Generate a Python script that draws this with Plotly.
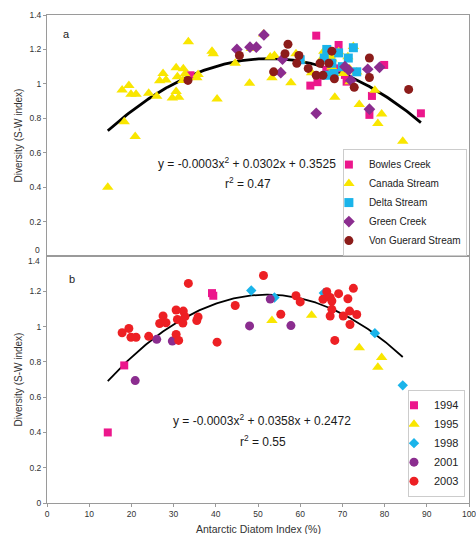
import numpy as np
import plotly.graph_objects as go

# ---------------- Panel b data (Canada Stream samples by year) ----------------
y1994_x = [14.4, 18.3, 39.1, 39.4]
y1994_y = [0.40, 0.78, 1.19, 1.175]
y1995_x = [53.3, 62.7, 74.0, 78.4, 79.3]
y1995_y = [1.035, 1.065, 0.88, 0.77, 0.825]
y1998_x = [48.4, 53.9, 65.6, 77.7, 84.3]
y1998_y = [1.205, 1.165, 1.19, 0.963, 0.667]
y2001_x = [20.9, 26.0, 29.7, 48.0, 52.9, 57.8]
y2001_y = [0.694, 0.928, 0.918, 1.004, 1.156, 1.006]
y2003_x = [17.8, 19.4, 19.9, 21.1, 24.1, 26.7, 27.5, 28.2, 30.6, 30.9, 30.6, 31.2,
           32.3, 32.2, 32.7, 33.5, 35.5, 35.8, 40.3, 44.6, 51.3, 55.4, 59.0, 60.0,
           65.4, 66.3, 67.1, 67.5, 69.1, 71.3, 72.6, 67.1, 67.5, 70.2, 71.7, 73.4,
           71.8, 68.2]
y2003_y = [0.965, 0.99, 0.94, 0.94, 0.945, 1.018, 1.06, 1.022, 1.094, 1.041, 0.956, 0.922,
           1.088, 1.02, 1.057, 1.245, 1.035, 1.055, 0.912, 1.12, 1.29, 1.07, 1.175, 1.14,
           1.155, 1.198, 1.165, 1.145, 1.187, 1.158, 1.217, 1.06, 1.098, 1.06, 1.088, 1.069,
           1.012, 0.922]

# ---------------- Panel a data (by stream) ----------------
bowles_x = [34.0, 63.8, 69.1, 62.4, 64.1, 66.2, 68.5, 71.0, 70.6, 76.4, 77.0, 79.9, 88.6]
bowles_y = [1.05, 1.28, 1.226, 0.99, 1.01, 1.08, 1.09, 1.013, 1.052, 0.82, 0.93, 1.11, 0.829]
canada_x = y1994_x + y1995_x + y1998_x + y2001_x + y2003_x
canada_y = y1994_y + y1995_y + y1998_y + y2001_y + y2003_y
delta_x = [60.0, 65.7, 66.3, 69.1, 72.6, 71.4, 67.5, 66.3, 68.0, 73.4, 70.0]
delta_y = [1.14, 1.15, 1.20, 1.18, 1.21, 1.15, 1.12, 1.05, 1.06, 1.07, 1.10]
green_x = [45.0, 48.1, 49.6, 51.4, 55.8, 55.4, 63.8, 70.6, 71.5, 72.0, 76.0, 78.8, 76.4]
green_y = [1.20, 1.213, 1.213, 1.284, 1.143, 1.065, 0.829, 1.10, 1.08, 1.02, 1.085, 1.096, 0.853]
vg_x = [33.4, 45.6, 53.7, 57.1, 56.4, 59.7, 59.2, 61.9, 64.7, 66.8, 67.5, 63.8, 65.4,
        68.1, 72.8, 76.4, 76.4, 85.7]
vg_y = [1.02, 1.165, 1.07, 1.23, 1.175, 1.165, 1.12, 1.09, 1.12, 1.12, 1.19, 1.05, 1.05,
        1.03, 0.98, 1.15, 1.037, 0.968]

# quadratic trendline coefficients (a is unrounded; b, c as printed on the chart)
trend_a = [-0.000287, 0.0302, 0.3525]
trend_b = [-0.000343, 0.0358, 0.2472]

x_ticks = list(range(0, 101, 10))

PINK = "#EC178C"
YELLOW = "#F9E600"
CYAN = "#1AB4EA"
PURPLE = "#8B2D8F"
BROWN = "#8C1C1A"
RED = "#ED2024"
FONT = "Arial, Liberation Sans, sans-serif"
AXC = "#9a9a9a"
TXT = "#333333"

fig = go.Figure()


def trend(xs, coef, xa, ya, width):
    xs = np.array(xs)
    xx = np.linspace(xs.min(), xs.max(), 200)
    fig.add_trace(go.Scatter(x=xx, y=np.polyval(coef, xx), mode="lines",
                             line=dict(color="black", width=width),
                             showlegend=False, hoverinfo="skip", xaxis=xa, yaxis=ya))


# trend lines (drawn beneath markers)
trend(bowles_x + canada_x + delta_x + green_x + vg_x, trend_a, "x", "y", 2.8)
trend(canada_x, trend_b, "x2", "y2", 1.8)

top_series = [
    ("Bowles Creek", bowles_x, bowles_y, "square", PINK, 8),
    ("Canada Stream", canada_x, canada_y, "triangle-up", YELLOW, 10),
    ("Delta Stream", delta_x, delta_y, "square", CYAN, 9),
    ("Green Creek", green_x, green_y, "diamond", PURPLE, 9),
    ("Von Guerard Stream", vg_x, vg_y, "circle", BROWN, 9),
]
for name, xs, ys, sym, col, sz in top_series:
    fig.add_trace(go.Scatter(x=xs, y=ys, mode="markers", name=name,
                             marker=dict(symbol=sym, color=col, size=sz, line=dict(width=0)),
                             xaxis="x", yaxis="y", legend="legend"))

bot_series = [
    ("1994", y1994_x, y1994_y, "square", PINK, 8),
    ("1995", y1995_x, y1995_y, "triangle-up", YELLOW, 10),
    ("1998", y1998_x, y1998_y, "diamond", CYAN, 8),
    ("2001", y2001_x, y2001_y, "circle", PURPLE, 9),
    ("2003", y2003_x, y2003_y, "circle", RED, 9),
]
for name, xs, ys, sym, col, sz in bot_series:
    fig.add_trace(go.Scatter(x=xs, y=ys, mode="markers", name=name,
                             marker=dict(symbol=sym, color=col, size=sz, line=dict(width=0)),
                             xaxis="x2", yaxis="y2", legend="legend2"))

split = 0.506
ax_common = dict(showgrid=False, zeroline=False, showline=True, linecolor=AXC, linewidth=1,
                 mirror=True, automargin=False, tickfont=dict(size=8.5, color=TXT, family=FONT))
ytitle = dict(text="Diversity (S-W index)", font=dict(size=10, color=TXT, family=FONT), standoff=4)

fig.update_layout(
    width=476, height=534,
    margin=dict(l=47, r=7, t=15, b=31, autoexpand=False),
    paper_bgcolor="white", plot_bgcolor="white",
    font=dict(family=FONT, color=TXT),
    xaxis=dict(domain=[0, 1], range=[0, 100], anchor="y", showticklabels=False, ticks="",
               **ax_common),
    yaxis=dict(domain=[split, 1], range=[0, 1.4], anchor="x",
               tickvals=[0.2, 0.4, 0.6, 0.8, 1.0, 1.2, 1.4], ticks="outside", ticklen=3,
               tickcolor=AXC, title=ytitle, **ax_common),
    xaxis2=dict(domain=[0, 1], range=[0, 100], anchor="y2", tickvals=x_ticks,
                ticks="outside", ticklen=3, tickcolor=AXC, ticklabeloverflow="allow",
                **ax_common),
    yaxis2=dict(domain=[0, split], range=[0, 1.4], anchor="x2",
                tickvals=[0, 0.2, 0.4, 0.6, 0.8, 1.0, 1.2], ticks="outside", ticklen=3,
                tickcolor=AXC, title=ytitle, **ax_common),
    legend=dict(x=0.995, xanchor="right", y=split, yanchor="bottom", indentation=-15,
                bgcolor="white", bordercolor="#cccccc", borderwidth=1,
                font=dict(size=10, color="#222222", family=FONT), tracegroupgap=0),
    legend2=dict(x=0.9905, xanchor="right", y=0.013, yanchor="bottom", indentation=-15,
                 bgcolor="white", bordercolor="#cccccc", borderwidth=1,
                 font=dict(size=11, color="#222222", family=FONT), tracegroupgap=0),
)

eq_font = dict(size=12, color="#1a1a1a", family=FONT)
annos = [
    dict(x=47.4, y=0.539, xref="x", yref="y", text="y = -0.0003x<sup>2</sup> + 0.0302x + 0.3525",
         showarrow=False, font=eq_font),
    dict(x=47.7, y=0.422, xref="x", yref="y", text="r<sup>2</sup> = 0.47",
         showarrow=False, font=eq_font),
    dict(x=50.9, y=0.469, xref="x2", yref="y2", text="y = -0.0003x<sup>2</sup> + 0.0358x + 0.2472",
         showarrow=False, font=eq_font),
    dict(x=51.3, y=0.35, xref="x2", yref="y2", text="r<sup>2</sup> = 0.55",
         showarrow=False, font=eq_font),
    dict(x=4.7, y=1.288, xref="x", yref="y", text="a", showarrow=False,
         font=dict(size=11, color="#222222", family=FONT)),
    dict(x=5.9, y=1.268, xref="x2", yref="y2", text="b", showarrow=False,
         font=dict(size=11, color="#222222", family=FONT)),
    # end labels shifted apart where the two panels meet
    dict(x=0, y=0, xref="paper", yref="y", text="0", showarrow=False, xanchor="right",
         xshift=-5, yshift=6, font=dict(size=8.5, color=TXT, family=FONT)),
    dict(x=0, y=1.4, xref="paper", yref="y2", text="1.4", showarrow=False, xanchor="right",
         xshift=-5, yshift=-5, font=dict(size=8.5, color=TXT, family=FONT)),
    # x-axis title
    dict(x=0.5, y=0, xref="paper", yref="paper", text="Antarctic Diatom Index (%)",
         showarrow=False, yanchor="top", yshift=-18,
         font=dict(size=10.5, color=TXT, family=FONT)),
]
fig.update_layout(annotations=annos)

fig.write_html("out.html", config={"displayModeBar": False},
               post_script="document.body.style.margin='0';document.body.style.overflow='hidden';")
